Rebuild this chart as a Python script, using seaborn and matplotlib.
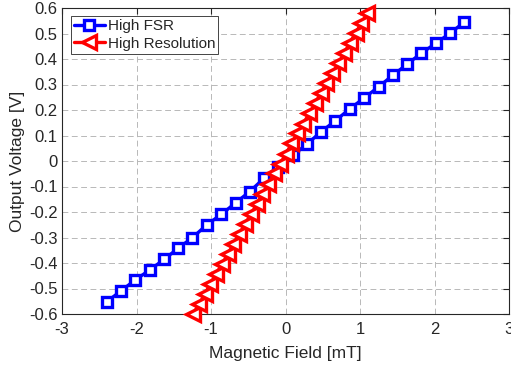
import matplotlib
matplotlib.use("Agg")
import matplotlib.pyplot as plt
import seaborn as sns
import pandas as pd

# ---- data ----
fsr_field = [-2.40, -2.21, -2.02, -1.82, -1.63, -1.44, -1.25, -1.06, -0.86, -0.67,
             -0.48, -0.29, -0.10, 0.10, 0.29, 0.48, 0.67, 0.86, 1.06, 1.25,
             1.44, 1.63, 1.82, 2.02, 2.21, 2.40]
fsr_volt = [-0.552, -0.510, -0.467, -0.427, -0.386, -0.342, -0.301, -0.251, -0.209, -0.164,
            -0.120, -0.068, -0.022, 0.022, 0.067, 0.115, 0.158, 0.204, 0.248, 0.291,
            0.336, 0.379, 0.422, 0.462, 0.501, 0.545]

res_field = [-1.24, -1.16, -1.08, -1.01, -0.93, -0.85, -0.77, -0.70, -0.62, -0.54,
             -0.46, -0.38, -0.31, -0.23, -0.15, -0.07, 0.01, 0.08, 0.16, 0.24,
             0.32, 0.40, 0.47, 0.55, 0.63, 0.71, 0.79, 0.86, 0.94, 1.02, 1.10]
res_volt = [-0.600, -0.561, -0.521, -0.482, -0.443, -0.403, -0.364, -0.325, -0.285, -0.246,
            -0.207, -0.167, -0.128, -0.089, -0.049, -0.010, 0.029, 0.069, 0.108, 0.147,
            0.187, 0.226, 0.265, 0.305, 0.344, 0.383, 0.423, 0.462, 0.501, 0.541, 0.580]

series_labels = ["High FSR", "High Resolution"]
x_ticks = [-3, -2, -1, 0, 1, 2, 3]
y_ticks = [-0.6, -0.5, -0.4, -0.3, -0.2, -0.1, 0, 0.1, 0.2, 0.3, 0.4, 0.5, 0.6]
y_ticklabels = ["-0.6", "-0.5", "-0.4", "-0.3", "-0.2", "-0.1", "0",
                "0.1", "0.2", "0.3", "0.4", "0.5", "0.6"]
x_ticklabels = ["-3", "-2", "-1", "0", "1", "2", "3"]

sns.set_style("white")
plt.rcParams["font.family"] = ["Liberation Sans", "DejaVu Sans"]

df_fsr = pd.DataFrame({"B": fsr_field, "V": fsr_volt})
df_res = pd.DataFrame({"B": res_field, "V": res_volt})

fig = plt.figure(figsize=(5.11, 3.68), dpi=100)
ax = fig.add_axes([62 / 511, 54 / 368, 447 / 511, 306 / 368])

dark = "#262626"

sns.lineplot(data=df_fsr, x="B", y="V", ax=ax, color="#0000ff", linewidth=2.4,
             marker="s", markersize=7.5, markerfacecolor="white",
             markeredgecolor="#0000ff", markeredgewidth=2.4,
             label=series_labels[0], clip_on=False, zorder=3)
sns.lineplot(data=df_res, x="B", y="V", ax=ax, color="#ff0000", linewidth=2.4,
             marker="<", markersize=10, markerfacecolor="white",
             markeredgecolor="#ff0000", markeredgewidth=2.4,
             label=series_labels[1], clip_on=False, zorder=4)

ax.set_xlim(-3, 3)
ax.set_ylim(-0.6, 0.6)
ax.set_xticks(x_ticks)
ax.set_xticklabels(x_ticklabels)
ax.set_yticks(y_ticks)
ax.set_yticklabels(y_ticklabels)

ax.grid(True, color="#b8b8b8", linestyle=(0, (6, 3.6)), linewidth=0.7)
ax.set_axisbelow(True)

for s in ax.spines.values():
    s.set_color(dark)
    s.set_linewidth(0.8)
    s.set_visible(True)

ax.tick_params(axis="both", direction="in", length=4, width=0.8,
               top=True, right=True, colors=dark, labelsize=12, pad=6)
ax.tick_params(axis="y", pad=3)

ax.set_xlabel("Magnetic Field [mT]", fontsize=12.5, color=dark, labelpad=6)
ax.set_ylabel("Output Voltage [V]", fontsize=12.5, color=dark, labelpad=3)

leg = ax.legend(loc="upper left", bbox_to_anchor=(0.02, 0.974), borderaxespad=0,
                fontsize=11, frameon=True, fancybox=False, framealpha=1,
                edgecolor=dark, handlelength=2.0, handletextpad=0.2,
                labelspacing=0.25, borderpad=0.2)
leg.get_frame().set_linewidth(0.6)

fig.savefig("out.png", dpi=100)
